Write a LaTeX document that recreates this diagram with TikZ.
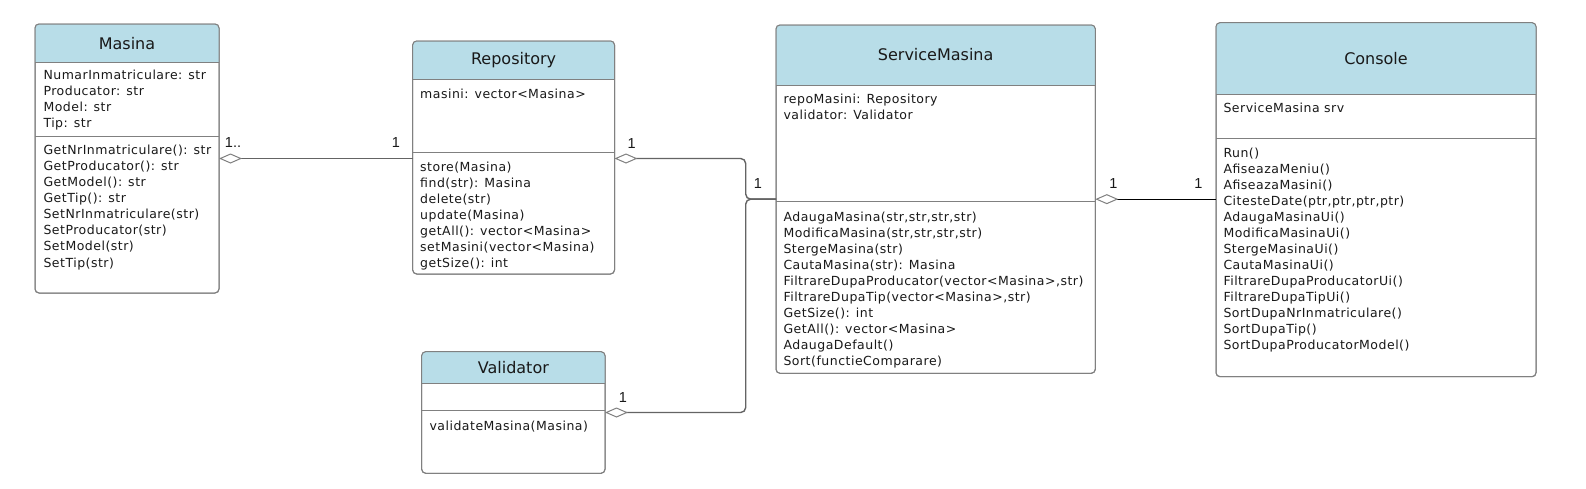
\documentclass[tikz,border=0pt]{standalone}
\usepackage{fontspec}
\setmainfont{DejaVu Sans}
\newfontfamily\labelfont{Liberation Sans}
\usetikzlibrary{arrows.meta,calc}
\definecolor{hdr}{RGB}{184,221,232}
\definecolor{bord}{RGB}{128,128,128}
\definecolor{txt}{RGB}{25,25,25}
\definecolor{conn}{RGB}{100,100,100}
\tikzset{
 classbox/.style={draw=bord, line width=1pt, rounded corners=4pt, anchor=north west, inner sep=0pt, outer sep=0pt, fill=white},
 classtitle/.style={font=\fontsize{16}{19}\selectfont, text=txt, inner sep=0pt},
 member/.style={anchor=base west, inner sep=0pt, text=txt, font=\fontsize{12.5}{15}\selectfont\addfontfeatures{LetterSpace=4}},
 divider/.style={draw=bord, line width=1pt},
 assoc/.style={draw=conn, line width=1.4pt, {Diamond[fill=white,color=bord,length=23pt,width=10pt,line width=1pt]}-, rounded corners=5pt},
 mult/.style={font=\labelfont\fontsize{14.5}{17}\selectfont, text=txt, inner sep=0pt},
}
\newcommand\umlclass[8]{%
 \node[classbox, minimum width=#4pt, minimum height=#5pt] (#1) at (#2,#3) {};
 \begin{scope}
  \clip[rounded corners=4pt] (#1.north west) rectangle (#1.south east);
  \fill[hdr] (#2,#3) rectangle (#2+#4,#6);
 \end{scope}
 \draw[bord, rounded corners=4pt, line width=1pt] (#1.north west) rectangle (#1.south east);
 \draw[divider] (#2,#6) -- (#2+#4,#6);
 \draw[divider] (#2,#7) -- (#2+#4,#7);
 \node[classtitle] (#1-title) at (#2+#4/2, {(#3+#6)/2}) {#8};
}
\newcommand\members[5]{%
 \foreach \t [count=\i from 0] in {#5} {\node[member] (#1-\i) at (#2, #3+\i*#4+4.3) {\t};}
}
\begin{document}
\begin{tikzpicture}[x=1pt,y=-1pt]
\useasboundingbox[fill=white] (0,0) rectangle (1586,488);
% classes
\umlclass{masina}{35}{24}{184}{269}{62.7}{136.7}{Masina}
\umlclass{repo}{412.7}{41}{201.8}{233}{79}{152.3}{Repository}
\umlclass{validator}{421.7}{351.7}{183.3}{121.6}{383.3}{410.7}{Validator}
\umlclass{service}{776}{25}{319.3}{348.3}{85}{201.7}{ServiceMasina}
\umlclass{console}{1216}{22.7}{320}{354}{94}{138.3}{Console}
% members
\members{masinaA}{43.3}{75}{16.1}{NumarInmatriculare: str, Producator: str, Model: str, Tip: str}
\members{masinaM}{43.3}{150}{16.1}{GetNrInmatriculare(): str, GetProducator(): str, GetModel(): str, GetTip(): str, SetNrInmatriculare(str), SetProducator(str), SetModel(str), SetTip(str)}
\members{repoA}{420}{94.3}{16}{masini: vector<Masina>}
\members{repoM}{420}{167.3}{16}{store(Masina), find(str): Masina, delete(str), update(Masina), getAll(): vector<Masina>, setMasini(vector<Masina), getSize(): int}
\members{validatorM}{429.3}{426}{16}{validateMasina(Masina)}
\members{serviceA}{783.3}{99.3}{16}{repoMasini: Repository, validator: Validator}
\members{serviceM}{783.3}{216.7}{16}{{AdaugaMasina(str,str,str,str)}, {ModificaMasina(str,str,str,str)}, StergeMasina(str), CautaMasina(str): Masina, {FiltrareDupaProducator(vector<Masina>,str)}, {FiltrareDupaTip(vector<Masina>,str)}, GetSize(): int, GetAll(): vector<Masina>, AdaugaDefault(), Sort(functieComparare)}
\members{consoleA}{1223.3}{108.3}{16}{ServiceMasina srv}
\members{consoleM}{1223.3}{152.7}{16}{Run(), AfiseazaMeniu(), AfiseazaMasini(), {CitesteDate(ptr,ptr,ptr,ptr)}, AdaugaMasinaUi(), ModificaMasinaUi(), StergeMasinaUi(), CautaMasinaUi(), FiltrareDupaProducatorUi(), FiltrareDupaTipUi(), SortDupaNrInmatriculare(), SortDupaTip(), SortDupaProducatorModel()}
% connectors
\coordinate (j) at ($(service.west)+(-30.3,0)$);
\draw[assoc] (masina.east) -- (masina.east -| repo.west);
\draw[assoc] (repo.east |- masina.east) -| (j) -- (service.west);
\draw[assoc] (validator.east) -| (j) -- (service.west);
\draw[assoc, draw=black, line width=1pt] (service.east) -- (service.east -| console.west);
% multiplicities
\node[mult] (m1) at (233,143) {1..};
\node[mult] (m2) at (396,143) {1};
\node[mult] (m3) at (631.7,143.3) {1};
\node[mult] (m4) at (758,183.3) {1};
\node[mult] (m5) at (623,398) {1};
\node[mult] (m6) at (1113.3,184) {1};
\node[mult] (m7) at (1198.3,184) {1};
\end{tikzpicture}
\end{document}
